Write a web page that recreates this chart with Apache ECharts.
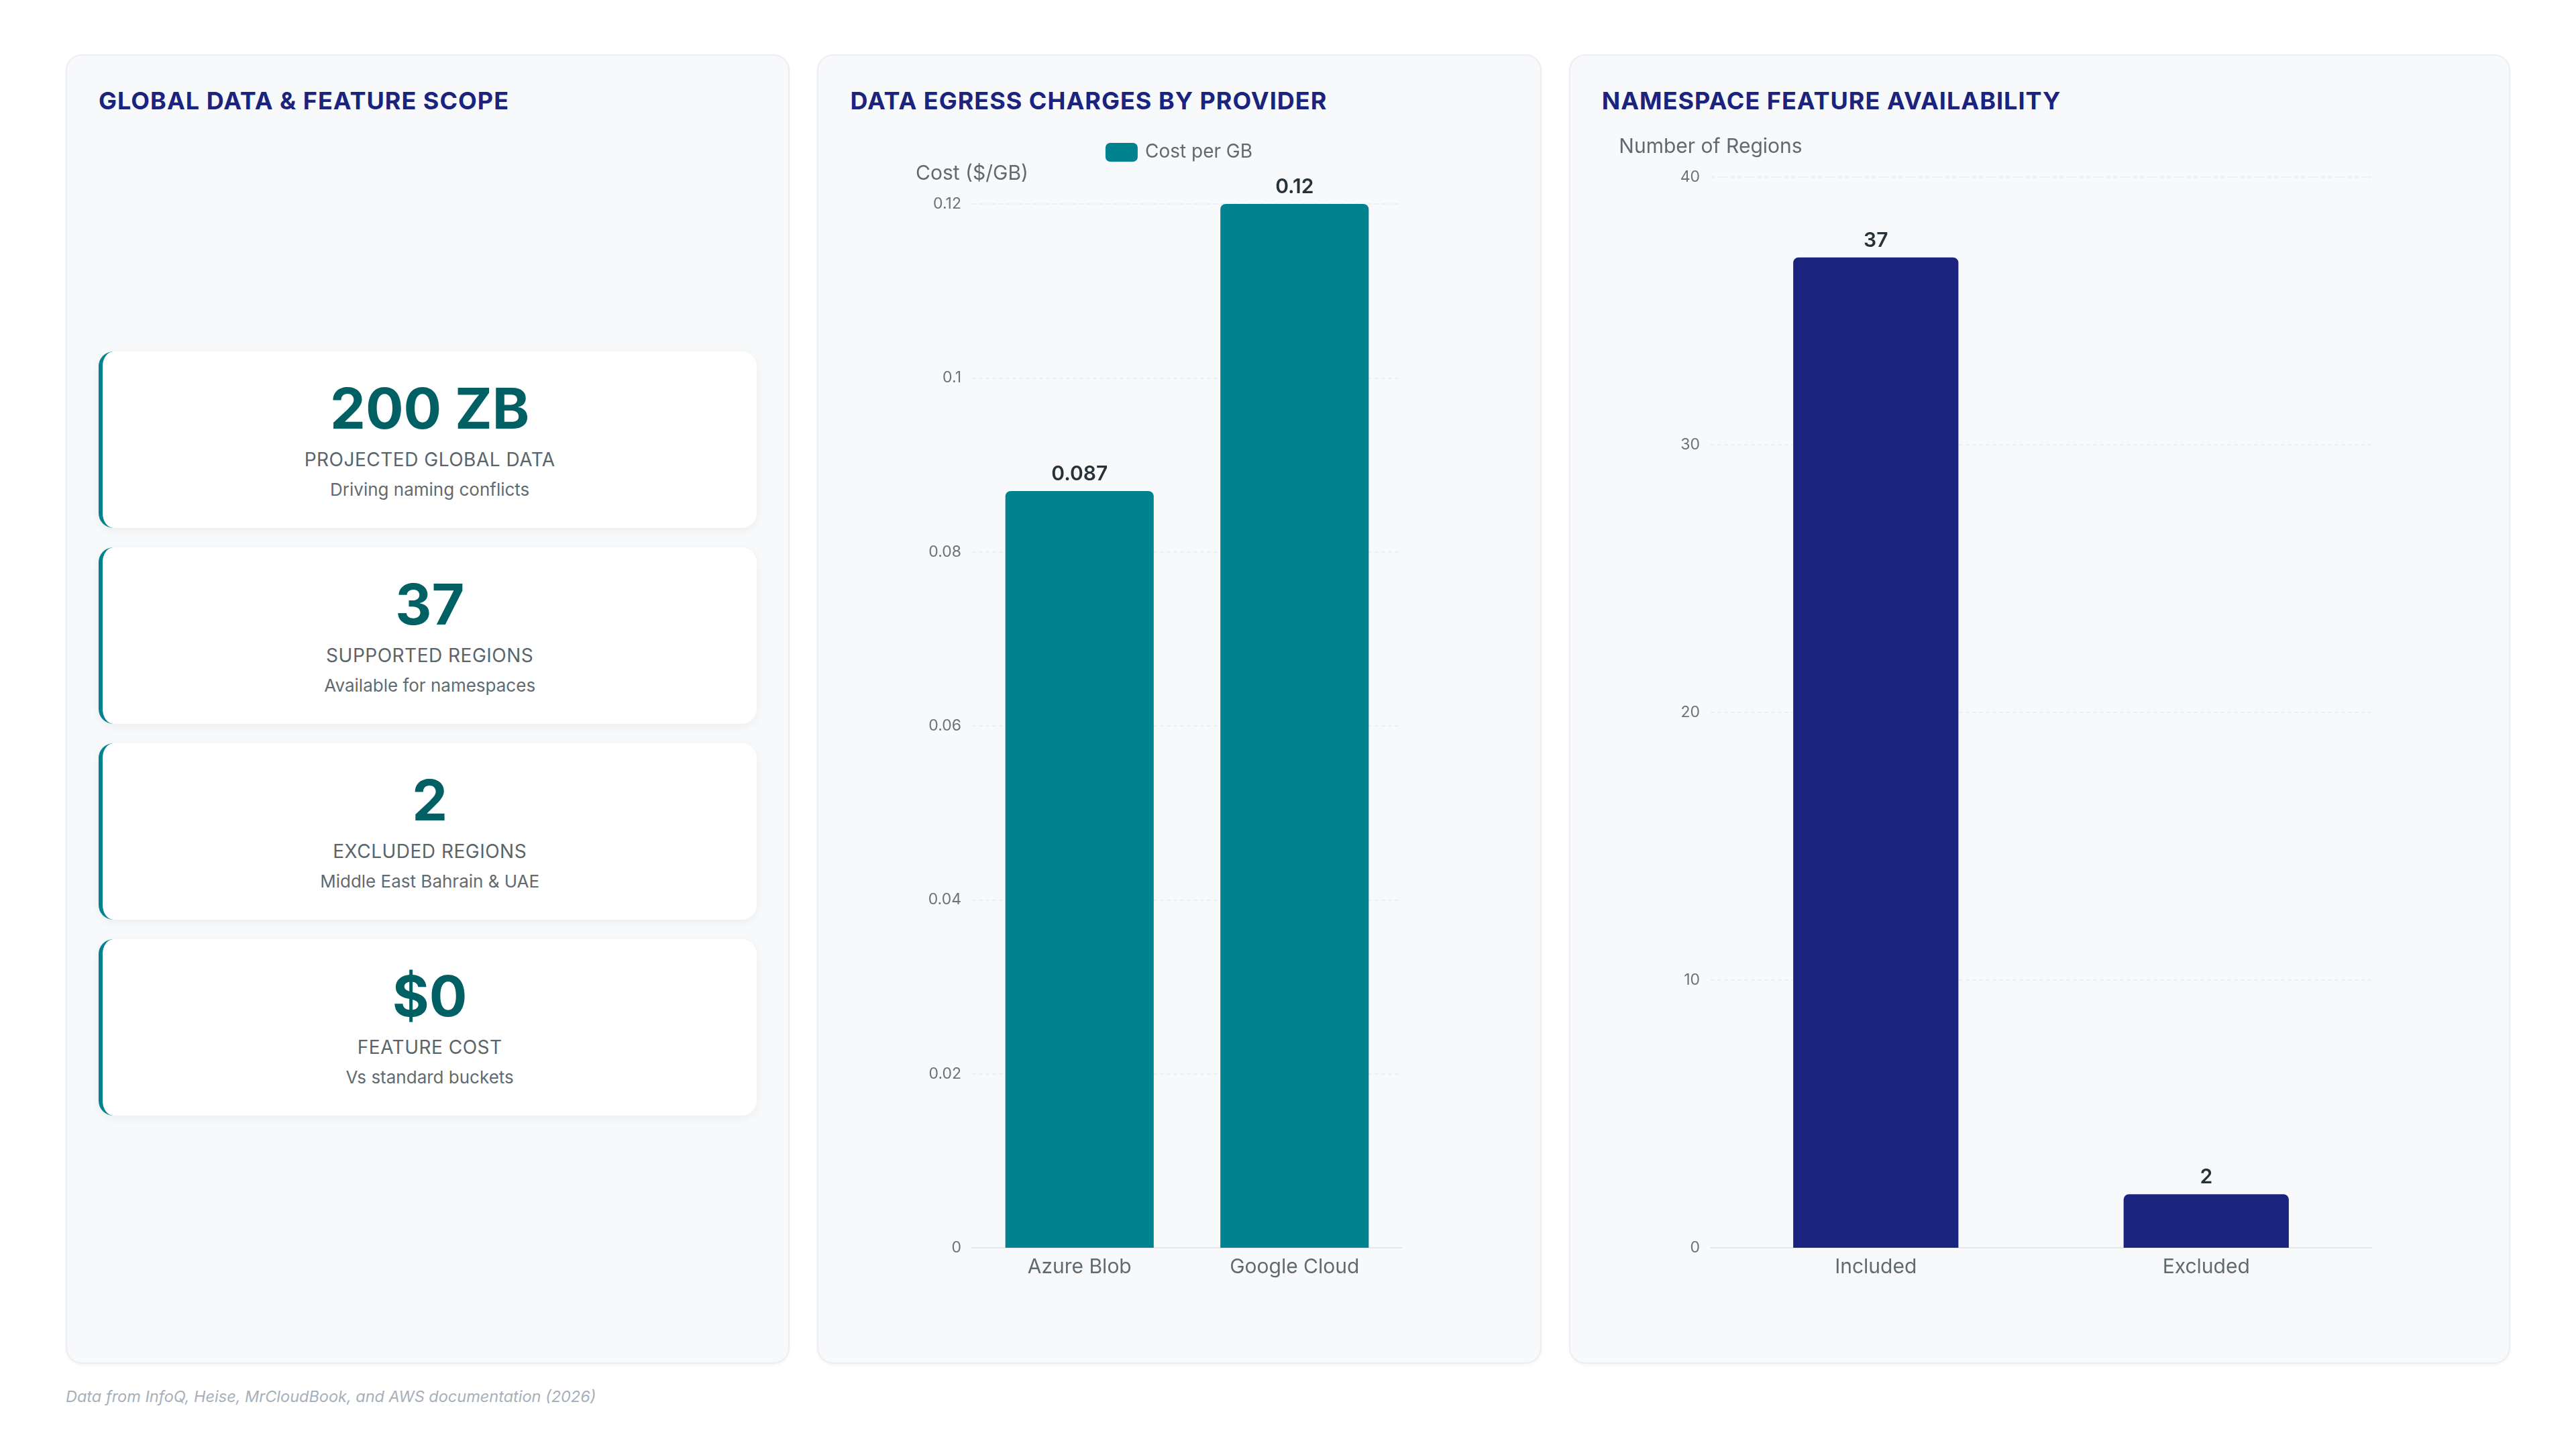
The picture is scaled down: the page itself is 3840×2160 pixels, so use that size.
<!DOCTYPE html>
<html>
<head>
<meta charset="utf-8">
<script src="https://cdn.jsdelivr.net/npm/echarts@6/dist/echarts.min.js"></script>
<style>
  body {
    margin: 0;
    width: 3840px;
    height: 2160px;
    background: #ffffff;
    font-family: Inter, "Noto Sans", sans-serif;
    position: relative;
    overflow: hidden;
  }
  .wrap {
    position: absolute;
    top: 81px;
    left: 98px;
    width: 3644px;
    height: 1952px;
    display: grid;
    grid-template-columns: 1fr 1fr 1.3fr;
    gap: 41px;
  }
  .panel {
    box-sizing: border-box;
    background: #f8f9fb;
    border: 2px solid #eceef1;
    border-radius: 24px;
    box-shadow: 0 2px 4px rgba(0, 0, 0, 0.04);
    padding: 46px 47px;
    display: flex;
    flex-direction: column;
  }
  .panel h2 {
    margin: 0;
    font-size: 36px;
    line-height: 43px;
    font-weight: 700;
    letter-spacing: 1px;
    color: #1a237e;
  }
  .cards {
    margin-top: 352px;
    display: flex;
    flex-direction: column;
    gap: 29px;
  }
  .card {
    box-sizing: border-box;
    height: 263px;
    background: #ffffff;
    border-left: 6px solid #00838f;
    border-radius: 22px;
    box-shadow: 0 4px 14px rgba(0, 0, 0, 0.05);
    text-align: center;
    padding-top: 43px;
  }
  .card .val {
    font-size: 84px;
    line-height: 84px;
    font-weight: 700;
    color: #006064;
  }
  .card .lbl {
    margin-top: 17px;
    font-size: 28px;
    line-height: 35px;
    letter-spacing: 0.5px;
    color: #5a6469;
  }
  .card .sub {
    margin-top: 10px;
    font-size: 26px;
    line-height: 33px;
    color: #5f6b70;
  }
  .chart {
    flex: 1;
    width: 100%;
  }
  .foot {
    position: absolute;
    left: 98px;
    top: 2067px;
    font-size: 23.5px;
    line-height: 30px;
    font-style: italic;
    color: #a6b0ba;
  }
</style>
</head>
<body>
<div class="wrap">
  <div class="panel">
    <h2>GLOBAL DATA &amp; FEATURE SCOPE</h2>
    <div class="cards" id="cards"></div>
  </div>
  <div class="panel">
    <h2>DATA EGRESS CHARGES BY PROVIDER</h2>
    <div class="chart" id="egress"></div>
  </div>
  <div class="panel">
    <h2>NAMESPACE FEATURE AVAILABILITY</h2>
    <div class="chart" id="regions"></div>
  </div>
</div>
<div class="foot">Data from InfoQ, Heise, MrCloudBook, and AWS documentation (2026)</div>

<script>
// kpi cards
var kpiValues = ['200 ZB', '37', '2', '$0'];
var kpiLabels = ['PROJECTED GLOBAL DATA', 'SUPPORTED REGIONS', 'EXCLUDED REGIONS', 'FEATURE COST'];
var kpiSubs = ['Driving naming conflicts', 'Available for namespaces', 'Middle East Bahrain & UAE', 'Vs standard buckets'];

// egress chart
var providers = ['Azure Blob', 'Google Cloud'];
var egressCost = [0.087, 0.12];

// namespace chart
var regionCats = ['Included', 'Excluded'];
var regionCounts = [37, 2];

var cardsEl = document.getElementById('cards');
for (var i = 0; i < kpiValues.length; i++) {
  var c = document.createElement('div');
  c.className = 'card';
  c.innerHTML = '<div class="val"></div><div class="lbl"></div><div class="sub"></div>';
  c.children[0].textContent = kpiValues[i];
  c.children[1].textContent = kpiLabels[i];
  c.children[2].textContent = kpiSubs[i];
  cardsEl.appendChild(c);
}

var grayText = '#5f6b70';
var font = 'Inter';

function baseAxes(cats, yName, yMax, yInterval) {
  return {
    xAxis: {
      type: 'category',
      data: cats,
      axisLine: { lineStyle: { color: '#e6e8eb', width: 2 } },
      axisTick: { show: false },
      axisLabel: { color: grayText, fontSize: 30, fontFamily: font, margin: 14 }
    },
    yAxis: {
      type: 'value',
      name: yName,
      nameGap: 30,
      nameTextStyle: { color: grayText, fontSize: 30, fontFamily: font },
      min: 0,
      max: yMax,
      interval: yInterval,
      axisLine: { show: false },
      axisTick: { show: false },
      axisLabel: { color: '#6b7378', fontSize: 23, fontFamily: font, margin: 16 },
      splitLine: { lineStyle: { color: '#e9ecef', type: [6, 4], width: 1.5 } }
    }
  };
}

// egress chart
var egressChart = echarts.init(document.getElementById('egress'));
var eAxes = baseAxes(providers, 'Cost ($/GB)', 0.12, 0.02);
egressChart.setOption({
  animation: false,
  textStyle: { fontFamily: font },
  legend: {
    top: 36,
    left: 'center',
    itemWidth: 48,
    itemHeight: 28,
    icon: 'roundRect',
    textStyle: { color: grayText, fontSize: 28, fontFamily: font, padding: [0, 0, 0, 6] },
    data: ['Cost per GB']
  },
  grid: { left: 182, right: 158, top: 132, bottom: 125 },
  xAxis: eAxes.xAxis,
  yAxis: eAxes.yAxis,
  series: [{
    name: 'Cost per GB',
    type: 'bar',
    data: egressCost,
    barWidth: '69%',
    itemStyle: { color: '#00838f', borderRadius: [8, 8, 0, 0] },
    label: {
      show: true,
      position: 'top',
      distance: 10,
      color: '#263238',
      fontSize: 30,
      fontWeight: 600,
      fontFamily: font
    }
  }]
});

// namespace chart
var regionChart = echarts.init(document.getElementById('regions'));
var rAxes = baseAxes(regionCats, 'Number of Regions', 40, 10);
regionChart.setOption({
  animation: false,
  textStyle: { fontFamily: font },
  grid: { left: 162, right: 158, top: 92, bottom: 125 },
  xAxis: rAxes.xAxis,
  yAxis: rAxes.yAxis,
  series: [{
    name: 'Regions',
    type: 'bar',
    data: regionCounts,
    barWidth: '50%',
    itemStyle: { color: '#1a237e', borderRadius: [8, 8, 0, 0] },
    label: {
      show: true,
      position: 'top',
      distance: 10,
      color: '#263238',
      fontSize: 30,
      fontWeight: 600,
      fontFamily: font
    }
  }]
});
</script>
</body>
</html>
